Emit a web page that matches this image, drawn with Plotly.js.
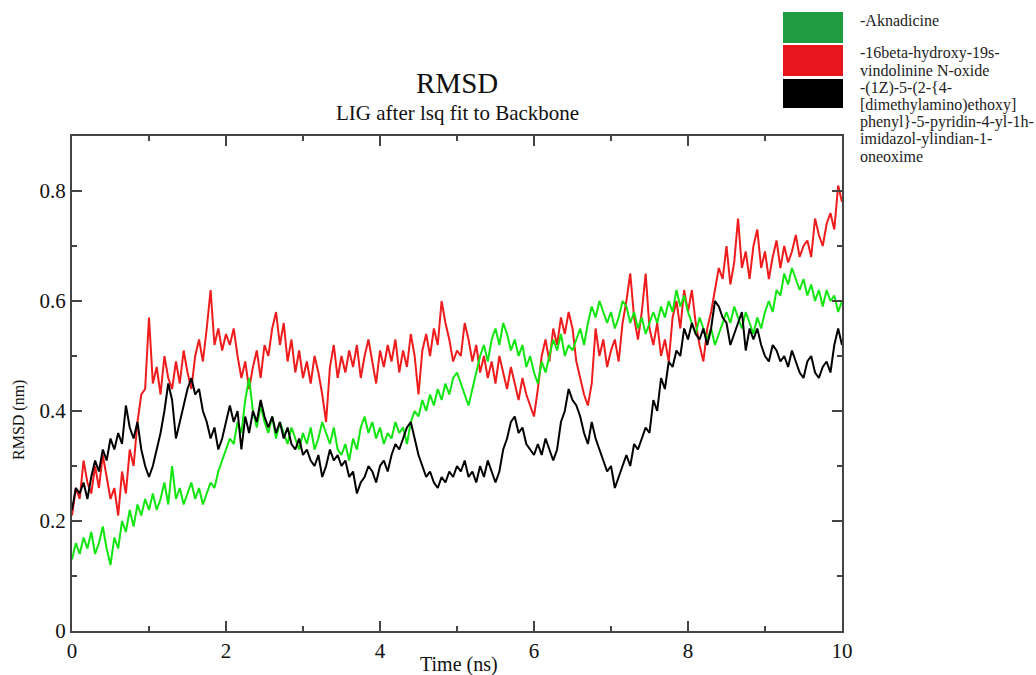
<!DOCTYPE html>
<html>
<head>
<meta charset="utf-8">
<script src="https://cdn.plot.ly/plotly-3.0.1.min.js"></script>
<style>html,body{margin:0;padding:0;background:#fff;}#chart{width:1036px;height:675px;}</style>
</head>
<body>
<div id="chart"></div>
<script>
// Time axis: 0..10 ns, step 0.05
var time = [];
for (var i = 0; i <= 200; i++) { time.push(+(i * 0.05).toFixed(2)); }

var legendLines = [
  ["-Aknadicine"],
  ["-16beta-hydroxy-19s-", "vindolinine N-oxide"],
  ["-(1Z)-5-(2-{4-", "[dimethylamino)ethoxy]", "phenyl}-5-pyridin-4-yl-1h-", "imidazol-ylindian-1-", "oneoxime"]
];

var aknadicine = [
  0.13,0.16,0.14,0.17,0.15,0.18,0.14,0.16,0.19,0.15,0.12,
  0.17,0.15,0.20,0.18,0.22,0.19,0.23,0.21,0.24,0.22,
  0.25,0.22,0.24,0.27,0.23,0.30,0.24,0.26,0.23,0.25,
  0.27,0.24,0.26,0.23,0.25,0.27,0.26,0.29,0.31,0.33,
  0.35,0.34,0.38,0.36,0.42,0.46,0.40,0.37,0.41,0.38,
  0.36,0.39,0.35,0.38,0.36,0.34,0.37,0.35,0.33,0.36,
  0.34,0.37,0.33,0.35,0.38,0.36,0.34,0.37,0.33,0.32,
  0.34,0.31,0.35,0.33,0.37,0.39,0.36,0.38,0.35,0.37,
  0.34,0.36,0.35,0.38,0.36,0.37,0.34,0.38,0.40,0.39,
  0.42,0.40,0.43,0.41,0.44,0.42,0.45,0.43,0.46,0.47,
  0.45,0.43,0.41,0.44,0.47,0.50,0.52,0.49,0.53,0.55,
  0.52,0.56,0.54,0.51,0.53,0.50,0.52,0.48,0.50,0.47,
  0.45,0.49,0.47,0.50,0.53,0.51,0.54,0.50,0.52,0.51,
  0.53,0.55,0.52,0.56,0.59,0.57,0.60,0.58,0.56,0.58,
  0.55,0.57,0.60,0.59,0.56,0.58,0.55,0.57,0.54,0.56,
  0.58,0.56,0.59,0.57,0.60,0.58,0.62,0.59,0.61,0.58,
  0.56,0.54,0.57,0.55,0.53,0.55,0.52,0.54,0.56,0.58,
  0.56,0.59,0.57,0.55,0.58,0.56,0.54,0.57,0.55,0.58,
  0.60,0.58,0.62,0.61,0.65,0.63,0.66,0.64,0.62,0.64,
  0.61,0.63,0.60,0.62,0.59,0.62,0.60,0.61,0.58,0.60
];

var vindolinine = [
  0.21,0.26,0.24,0.31,0.27,0.25,0.30,0.26,0.32,0.28,0.24,
  0.26,0.21,0.29,0.25,0.33,0.30,0.38,0.43,0.44,0.57,
  0.45,0.48,0.43,0.50,0.46,0.44,0.49,0.45,0.51,0.47,
  0.44,0.50,0.53,0.49,0.55,0.62,0.52,0.55,0.51,0.54,
  0.52,0.55,0.50,0.46,0.49,0.44,0.48,0.51,0.46,0.52,
  0.50,0.55,0.58,0.52,0.56,0.49,0.53,0.47,0.51,0.46,
  0.49,0.45,0.50,0.47,0.43,0.38,0.48,0.52,0.46,0.50,
  0.47,0.51,0.48,0.52,0.46,0.50,0.53,0.49,0.45,0.51,
  0.48,0.52,0.49,0.53,0.47,0.51,0.48,0.54,0.50,0.43,
  0.51,0.54,0.50,0.55,0.52,0.60,0.56,0.53,0.49,0.51,
  0.50,0.56,0.53,0.49,0.52,0.47,0.50,0.46,0.49,0.45,
  0.50,0.47,0.44,0.48,0.45,0.42,0.46,0.43,0.41,0.39,
  0.44,0.50,0.53,0.49,0.55,0.52,0.57,0.54,0.58,0.55,
  0.49,0.46,0.43,0.41,0.45,0.55,0.50,0.53,0.48,0.51,
  0.53,0.49,0.56,0.60,0.65,0.57,0.53,0.58,0.65,0.55,
  0.52,0.56,0.50,0.53,0.49,0.57,0.60,0.55,0.62,0.58,
  0.62,0.56,0.52,0.49,0.55,0.58,0.62,0.66,0.64,0.70,
  0.63,0.67,0.75,0.66,0.69,0.64,0.70,0.73,0.66,0.69,
  0.64,0.68,0.71,0.66,0.70,0.67,0.69,0.72,0.68,0.70,
  0.71,0.68,0.75,0.72,0.70,0.74,0.76,0.73,0.81,0.78
];

var oneoxime = [
  0.22,0.26,0.25,0.27,0.24,0.28,0.31,0.29,0.33,0.31,0.35,
  0.33,0.36,0.34,0.41,0.37,0.35,0.38,0.33,0.30,0.28,
  0.30,0.33,0.36,0.40,0.45,0.42,0.35,0.38,0.41,0.44,
  0.46,0.43,0.44,0.40,0.38,0.35,0.37,0.33,0.35,0.38,
  0.41,0.38,0.40,0.33,0.39,0.36,0.40,0.38,0.42,0.39,
  0.37,0.39,0.36,0.38,0.35,0.37,0.34,0.33,0.35,0.32,
  0.33,0.31,0.30,0.32,0.28,0.30,0.33,0.31,0.32,0.30,
  0.31,0.28,0.29,0.25,0.27,0.28,0.30,0.29,0.27,0.30,
  0.31,0.29,0.32,0.34,0.33,0.35,0.37,0.38,0.35,0.32,
  0.30,0.28,0.29,0.27,0.26,0.28,0.27,0.29,0.28,0.30,
  0.29,0.31,0.28,0.29,0.27,0.30,0.28,0.31,0.29,0.27,
  0.29,0.33,0.35,0.38,0.39,0.36,0.37,0.34,0.33,0.32,
  0.34,0.32,0.35,0.33,0.31,0.33,0.38,0.40,0.44,0.42,
  0.41,0.39,0.36,0.34,0.38,0.35,0.33,0.31,0.29,0.30,
  0.26,0.28,0.30,0.32,0.30,0.34,0.33,0.35,0.37,0.36,
  0.42,0.40,0.46,0.44,0.49,0.48,0.51,0.50,0.55,0.53,
  0.56,0.54,0.53,0.55,0.52,0.55,0.60,0.59,0.57,0.56,
  0.52,0.54,0.56,0.58,0.51,0.55,0.53,0.55,0.52,0.50,
  0.49,0.52,0.51,0.49,0.50,0.48,0.51,0.49,0.47,0.46,
  0.49,0.50,0.47,0.46,0.48,0.49,0.47,0.52,0.55,0.52
];

var lineColors = ["#11e611", "#ee1c1c", "#000000"];
var swatchColors = ["#1f9c3f", "#e8161c", "#000000"];

var traces = [
  {x: time, y: vindolinine, name: "16beta-hydroxy-19s-vindolinine N-oxide", type: "scatter", mode: "lines", line: {color: lineColors[1], width: 2}},
  {x: time, y: aknadicine, name: "Aknadicine", type: "scatter", mode: "lines", line: {color: lineColors[0], width: 2}},
  {x: time, y: oneoxime, name: "oneoxime", type: "scatter", mode: "lines", line: {color: lineColors[2], width: 2}}
];

var L = 72, R = 194, T = 136, B = 44, W = 1036, H = 675;
var pw = W - L - R, ph = H - T - B;
function px(x) { return (x - L) / pw; }
function py(y) { return (H - B - y) / ph; }

var serif = "Liberation Serif, Times New Roman, serif";
var swatchY = [[12, 43], [45, 76], [79, 108]];
var shapes = [];
for (var k = 0; k < 3; k++) {
  shapes.push({type: "rect", xref: "paper", yref: "paper",
    x0: px(783), x1: px(843), y0: py(swatchY[k][1]), y1: py(swatchY[k][0]),
    fillcolor: swatchColors[k], line: {width: 0}});
}
var legTextY = [[20], [53, 70], [88, 105, 122, 139, 156]];
var annotations = [];
for (var k = 0; k < 3; k++) {
  for (var j = 0; j < legendLines[k].length; j++) {
    annotations.push({xref: "paper", yref: "paper", x: px(858), y: py(legTextY[k][j]),
      xanchor: "left", yanchor: "middle", align: "left", showarrow: false,
      text: legendLines[k][j],
      font: {family: serif, size: 16, color: "#222"}});
  }
}
annotations.push({xref: "paper", yref: "paper", x: px(457), y: py(83), xanchor: "center", yanchor: "middle",
  showarrow: false, text: "RMSD", font: {family: serif, size: 29, color: "#111"}});
annotations.push({xref: "paper", yref: "paper", x: px(457), y: py(113), xanchor: "center", yanchor: "middle",
  showarrow: false, text: "LIG after lsq fit to Backbone", font: {family: serif, size: 21, color: "#111"}});
annotations.push({xref: "paper", yref: "paper", x: px(19), y: py(420), xanchor: "center", yanchor: "middle",
  showarrow: false, textangle: -90, text: "RMSD (nm)", font: {family: serif, size: 16, color: "#111"}});
annotations.push({xref: "paper", yref: "paper", x: px(459), y: py(664), xanchor: "center", yanchor: "middle",
  showarrow: false, text: "Time (ns)", font: {family: serif, size: 20, color: "#111"}});

var axisCommon = {
  showgrid: false, zeroline: false, showline: true, linecolor: "#444", linewidth: 2,
  mirror: "ticks", ticks: "inside", ticklen: 10, tickwidth: 1.5, tickcolor: "#444",
  tickfont: {family: serif, size: 21, color: "#111"}
};

var layout = {
  width: W, height: H,
  margin: {l: L, r: R, t: T, b: B},
  paper_bgcolor: "#fff", plot_bgcolor: "#fff",
  showlegend: false,
  xaxis: Object.assign({}, axisCommon, {range: [0, 10], dtick: 2, tick0: 0, ticklabelstandoff: 0,
    minor: {dtick: 1, ticks: "inside", ticklen: 5, tickwidth: 1.5, tickcolor: "#444"}}),
  yaxis: Object.assign({}, axisCommon, {range: [0, 0.9], dtick: 0.2, tick0: 0,
    minor: {dtick: 0.1, ticks: "inside", ticklen: 5, tickwidth: 1.5, tickcolor: "#444"}}),
  shapes: shapes,
  annotations: annotations
};

Plotly.newPlot("chart", traces, layout, {displayModeBar: false, staticPlot: true});
</script>
</body>
</html>
